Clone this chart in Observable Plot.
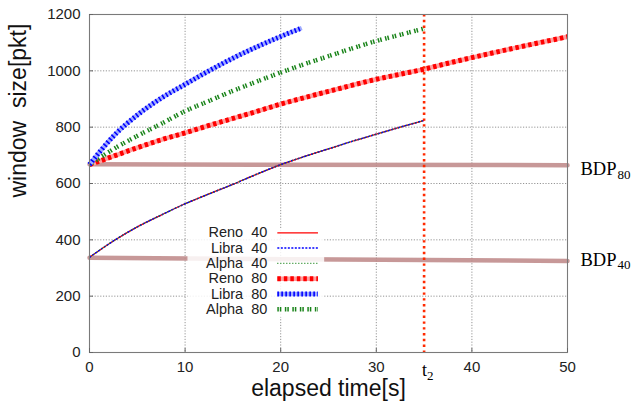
<!DOCTYPE html>
<html><head><meta charset="utf-8">
<script src="https://cdn.jsdelivr.net/npm/d3@7"></script>
<script src="https://cdn.jsdelivr.net/npm/@observablehq/plot@0.6"></script>
<style>
body{margin:0;background:#fff;}
#chart svg{display:block;}
</style></head><body><div id="chart"></div>
<script>
// ---- data ----
const xTicks = [0, 10, 20, 30, 40, 50];
const yTicks = [0, 200, 400, 600, 800, 1000, 1200];

const t40     = [0, 2.5, 5, 7.5, 10, 12.5, 15, 17.5, 20, 22.5, 25, 27.5, 30, 32.5, 35];
const reno40  = [338, 396, 446, 488, 528, 563, 597, 633, 667, 696, 723, 750, 775, 800, 824];
const libra40 = [338, 396, 446, 488, 528, 563, 597, 633, 667, 696, 723, 750, 775, 800, 824];
const alpha40 = [338, 396, 446, 488, 528, 563, 597, 633, 667, 696, 723, 750, 775, 800, 824];

const tReno80  = [0, 2.5, 5, 7.5, 10, 12.5, 15, 17.5, 20, 22.5, 25, 27.5, 30, 32.5, 35, 37.5, 40, 42.5, 45, 47.5, 50];
const reno80   = [667, 697, 727, 755, 780, 806, 831, 856, 882, 905, 927, 949, 970, 988, 1006, 1027, 1047, 1066, 1085, 1103, 1121];
const tLibra80 = [0, 2.5, 5, 7.5, 10, 12.5, 15, 17.5, 20, 22.2];
const libra80  = [667, 768, 843, 903, 952, 1000, 1045, 1085, 1122, 1152];
const tAlpha80 = [0, 2.5, 5, 7.5, 10, 12.5, 15, 17.5, 20, 22.5, 25, 27.5, 30, 32.5, 35];
const alpha80  = [667, 722, 769, 812, 857, 893, 929, 962, 994, 1024, 1052, 1080, 1106, 1128, 1150];

const bdpT   = [0, 50];
const bdp80  = [668, 665];
const bdp40  = [336, 325];
const t2     = 35;

const legendLabels = ["Reno  40", "Libra  40", "Alpha  40", "Reno  80", "Libra  80", "Alpha  80"];

// ---- styles ----
const font = "'Liberation Sans', Arial, Helvetica, sans-serif";
const serif = "'Liberation Serif', 'Times New Roman', serif";
const RED = "#ff0000", BLUE = "#0000ff", GREEN = "#1a841a";
const styles = [
  [{stroke: RED, strokeWidth: 1.3}],
  [{stroke: BLUE, strokeWidth: 1.5, strokeDasharray: "2,1.5"}],
  [{stroke: GREEN, strokeWidth: 1.3, strokeDasharray: "1,2"}],
  [{stroke: "#ffa0a0", strokeWidth: 4.5}, {stroke: RED, strokeWidth: 5, strokeDasharray: "3.5,3"}],
  [{stroke: "#a0acff", strokeWidth: 4.5}, {stroke: BLUE, strokeWidth: 5, strokeDasharray: "1.6,2.4"}],
  [{stroke: GREEN, strokeWidth: 4.5, strokeDasharray: "1.5,1,1.5,3.5"}]
];

const pts = (ts, vs) => ts.map((t, i) => ({t, v: vs[i]}));
const series = [
  pts(t40, reno40), pts(t40, libra40), pts(t40, alpha40),
  pts(tReno80, reno80), pts(tLibra80, libra80), pts(tAlpha80, alpha80)
];

function curveMarks(data, st) {
  return st.map(s => Plot.line(data, {x: "t", y: "v", curve: "monotone-x", strokeLinecap: "butt", ...s}));
}

// legend geometry in data units
const legTextX = 18.6, legLineX1 = 19.7, legLineX2 = 23.95;
const legRowY = i => 425 - i * 54.3;
const legendRows = legendLabels.map((label, i) => ({label, i, y: legRowY(i)}));

const marks = [
  // grid
  Plot.ruleX(xTicks, {stroke: "#8a8a8a", strokeWidth: 0.9, strokeDasharray: "1.2,1.6"}),
  Plot.ruleY(yTicks, {stroke: "#8a8a8a", strokeWidth: 0.9, strokeDasharray: "1.2,1.6"}),
  // BDP lines
  Plot.line(pts(bdpT, bdp80), {x: "t", y: "v", stroke: "#bd8686", strokeOpacity: 0.85, strokeWidth: 4.5}),
  Plot.line(pts(bdpT, bdp40), {x: "t", y: "v", stroke: "#bd8686", strokeOpacity: 0.85, strokeWidth: 4.5}),
  // legend background
  Plot.rect([0], {x1: 10.3, x2: 24.6, y1: 124, y2: 440, fill: "white", fillOpacity: 0.85}),
  // curves: thick first, then thin
  ...curveMarks(series[3], styles[3]),
  ...curveMarks(series[5], styles[5]),
  ...curveMarks(series[4], styles[4]),
  ...curveMarks(series[0], styles[0]),
  ...curveMarks(series[1], styles[1]),
  ...curveMarks(series[2], styles[2]),
  // t2 line
  Plot.ruleX([t2], {stroke: "#ff2a00", strokeWidth: 2.6, strokeDasharray: "2.4,3.4"}),
  // frame
  Plot.frame({stroke: "#7a7a7a", strokeWidth: 1.1}),
  // axes
  Plot.axisX(xTicks, {tickSize: 0, tickPadding: 9, fontSize: 15, fill: "#222", fontFamily: font, label: null, tickFormat: d => String(d)}),
  Plot.axisY(yTicks, {tickSize: 0, tickPadding: 9, fontSize: 15, fill: "#222", fontFamily: font, label: null, tickFormat: d => String(d)}),
  // inner ticks
  Plot.ruleX(xTicks, {stroke: "#666", insetTop: 334}),
  Plot.ruleY(yTicks, {stroke: "#666", insetRight: 474}),
  // axis titles
  Plot.text(["elapsed time[s]"], {frameAnchor: "bottom", dy: 43, lineAnchor: "bottom", fontSize: 23, fontFamily: font, fill: "#111"}),
  Plot.text(["window\u00a0\u00a0size[pkt]"], {frameAnchor: "left", rotate: -90, dx: -71, dy: 14, fontSize: 23, fontFamily: font, fill: "#111"}),
  // legend
  Plot.text(legendRows, {x: () => legTextX, y: "y", text: "label", textAnchor: "end", fontSize: 14.5, fontFamily: font, fill: "#222", lineAnchor: "middle"}),
  ...legendRows.flatMap(r => styles[r.i].map(s =>
    Plot.ruleY([r.y], {x1: legLineX1, x2: legLineX2, strokeLinecap: "butt", ...s}))),
  // BDP labels
  Plot.text(["BDP"], {x: () => bdpT[1], y: () => bdp80[1], dx: 13, dy: 10, textAnchor: "start", lineAnchor: "bottom", fontSize: 18.5, fontFamily: serif, fill: "#000"}),
  Plot.text(["80"], {x: () => bdpT[1], y: () => bdp80[1], dx: 50, dy: 13.5, textAnchor: "start", lineAnchor: "bottom", fontSize: 13, fontFamily: serif, fill: "#000"}),
  Plot.text(["BDP"], {x: () => bdpT[1], y: () => bdp40[1], dx: 13, dy: 5, textAnchor: "start", lineAnchor: "bottom", fontSize: 18.5, fontFamily: serif, fill: "#000"}),
  Plot.text(["40"], {x: () => bdpT[1], y: () => bdp40[1], dx: 50, dy: 8.5, textAnchor: "start", lineAnchor: "bottom", fontSize: 13, fontFamily: serif, fill: "#000"}),
  // t2 label
  Plot.text(["t"], {x: () => t2, frameAnchor: "bottom", dx: 3, dy: 23, textAnchor: "end", lineAnchor: "bottom", fontSize: 18, fontFamily: serif, fill: "#000"}),
  Plot.text(["2"], {x: () => t2, frameAnchor: "bottom", dx: 3, dy: 27, textAnchor: "start", lineAnchor: "bottom", fontSize: 13, fontFamily: serif, fill: "#000"})
];

const chart = Plot.plot({
  width: 632,
  height: 403,
  marginLeft: 89,
  marginRight: 65,
  marginTop: 14,
  marginBottom: 51,
  style: {background: "#fff", overflow: "visible"},
  x: {domain: [0, 50]},
  y: {domain: [0, 1200]},
  marks
});
document.getElementById("chart").appendChild(chart);
</script>
</body></html>
